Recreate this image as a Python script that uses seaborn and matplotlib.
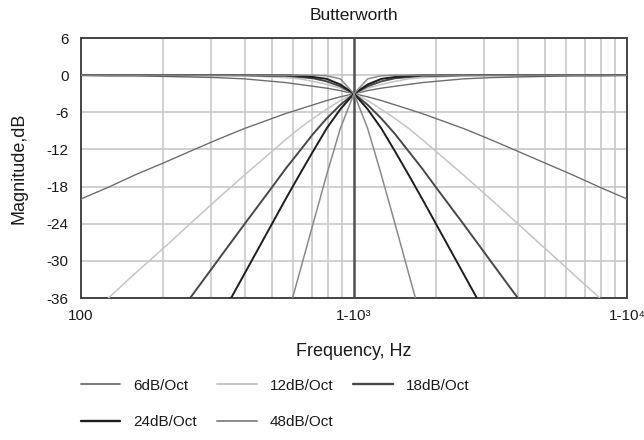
import seaborn as sns
import matplotlib.pyplot as plt
from matplotlib.lines import Line2D
import pandas as pd

# Frequências (Hz) - grade em escala log, simétrica em torno de 1 kHz
freq = [100, 126, 158, 200, 251, 316, 398, 501, 562, 631, 708, 794, 891, 1000,
        1122, 1259, 1413, 1585, 1778, 1995, 2512, 3162, 3981, 5012, 6310, 7943, 10000]

# Passa-baixa (dB)
lp_6 = [-0.0, -0.1, -0.1, -0.2, -0.3, -0.4, -0.6, -1.0, -1.2, -1.5, -1.8, -2.1, -2.5, -3.0,
        -3.5, -4.1, -4.8, -5.5, -6.2, -7.0, -8.6, -10.4, -12.3, -14.2, -16.1, -18.1, -20.0]
lp_12 = [0.0, 0.0, 0.0, 0.0, 0.0, 0.0, -0.1, -0.3, -0.4, -0.6, -1.0, -1.5, -2.1, -3.0,
         -4.1, -5.5, -7.0, -8.6, -10.4, -12.3, -16.1, -20.0, -24.0, -28.0, -32.0, -36.0, -40.0]
lp_18 = [0.0, 0.0, 0.0, 0.0, 0.0, 0.0, 0.0, -0.1, -0.1, -0.3, -0.5, -1.0, -1.8, -3.0,
         -4.8, -7.0, -9.5, -12.3, -15.1, -18.1, -24.0, -30.0, -36.0, -42.0, -48.0, -54.0, -60.0]
lp_24 = [0.0, 0.0, 0.0, 0.0, 0.0, 0.0, 0.0, 0.0, -0.0, -0.1, -0.3, -0.6, -1.5, -3.0,
         -5.5, -8.6, -12.3, -16.1, -20.0, -24.0, -32.0, -40.0, -48.0, -56.0, -64.0, -72.0, -80.0]
lp_48 = [0.0, 0.0, 0.0, 0.0, 0.0, 0.0, 0.0, 0.0, 0.0, 0.0, 0.0, -0.1, -0.6, -3.0,
         -8.6, -16.1, -24.0, -32.0, -40.0, -48.0, -64.0, -80.0, -96.0, -112.0, -128.0, -144.0, -160.0]

# Passa-alta (dB)
hp_6 = [-20.0, -18.1, -16.1, -14.2, -12.3, -10.4, -8.6, -7.0, -6.2, -5.5, -4.8, -4.1, -3.5, -3.0,
        -2.5, -2.1, -1.8, -1.5, -1.2, -1.0, -0.6, -0.4, -0.3, -0.2, -0.1, -0.1, -0.0]
hp_12 = [-40.0, -36.0, -32.0, -28.0, -24.0, -20.0, -16.1, -12.3, -10.4, -8.6, -7.0, -5.5, -4.1, -3.0,
         -2.1, -1.5, -1.0, -0.6, -0.4, -0.3, -0.1, 0.0, 0.0, 0.0, 0.0, 0.0, 0.0]
hp_18 = [-60.0, -54.0, -48.0, -42.0, -36.0, -30.0, -24.0, -18.1, -15.1, -12.3, -9.5, -7.0, -4.8, -3.0,
         -1.8, -1.0, -0.5, -0.3, -0.1, -0.1, 0.0, 0.0, 0.0, 0.0, 0.0, 0.0, 0.0]
hp_24 = [-80.0, -72.0, -64.0, -56.0, -48.0, -40.0, -32.0, -24.0, -20.0, -16.1, -12.3, -8.6, -5.5, -3.0,
         -1.5, -0.6, -0.3, -0.1, -0.0, 0.0, 0.0, 0.0, 0.0, 0.0, 0.0, 0.0, 0.0]
hp_48 = [-160.0, -144.0, -128.0, -112.0, -96.0, -80.0, -64.0, -48.0, -40.0, -32.0, -24.0, -16.1, -8.6, -3.0,
         -0.6, -0.1, 0.0, 0.0, 0.0, 0.0, 0.0, 0.0, 0.0, 0.0, 0.0, 0.0, 0.0]

labels = ['6dB/Oct', '12dB/Oct', '18dB/Oct', '24dB/Oct', '48dB/Oct']
colors = ['#6e6e6e', '#c4c4c4', '#474747', '#1e1e1e', '#8a8a8a']
widths = [1.0, 1.1, 1.4, 1.4, 1.1]
lows = [lp_6, lp_12, lp_18, lp_24, lp_48]
highs = [hp_6, hp_12, hp_18, hp_24, hp_48]

y_ticks = [6, 0, -6, -12, -18, -24, -30, -36]
x_ticks = [100, 1000, 10000]
x_ticklabels = ['100', '1-10³', '1-10⁴']

sns.set_style("white")
plt.rcParams['font.family'] = ['Liberation Sans', 'DejaVu Sans']

fig = plt.figure(figsize=(6.44, 4.40), dpi=100)
ax = fig.add_axes([0.1258, 0.3227, 0.8478, 0.5909])

ax.set_xscale('log')
ax.set_xlim(100, 10000)
ax.set_ylim(-36, 6)

# Grade
minor = [200, 300, 400, 500, 600, 700, 800, 900,
         2000, 3000, 4000, 5000, 6000, 7000, 8000, 9000]
for f in minor:
    ax.axvline(f, color='#c8c8c8', lw=1.2, zorder=1)
for v in y_ticks:
    ax.axhline(v, color='#c8c8c8', lw=1.2, zorder=1)
ax.axvline(1000, color='#505050', lw=1.8, zorder=1)

for lab, c, w, lo, hi in zip(labels, colors, widths, lows, highs):
    df_lo = pd.DataFrame({'f': freq, 'db': lo})
    df_hi = pd.DataFrame({'f': freq, 'db': hi})
    sns.lineplot(data=df_lo, x='f', y='db', color=c, lw=w, ax=ax, zorder=3)
    sns.lineplot(data=df_hi, x='f', y='db', color=c, lw=w, ax=ax, zorder=3)

ax.set_yticks(y_ticks)
ax.set_yticklabels([str(v) for v in y_ticks])
ax.set_xticks(x_ticks)
ax.set_xticklabels(x_ticklabels)
ax.minorticks_off()
ax.tick_params(axis='both', length=0, labelsize=11, colors='#1a1a1a')
ax.tick_params(axis='x', pad=8)
ax.tick_params(axis='y', pad=9)
# último rótulo encostado à borda direita
ax.get_xticklabels()[-1].set_horizontalalignment('center')
ax.get_xticklabels()[-1].set_x(10000)

for s in ax.spines.values():
    s.set_color('#444444')
    s.set_linewidth(1.4)

ax.set_title('Butterworth', fontsize=12.5, pad=13, color='#1a1a1a')
ax.set_xlabel('Frequency, Hz', fontsize=13, labelpad=14, color='#1a1a1a')
ax.set_ylabel('Magnitude,dB', fontsize=13, labelpad=14, color='#1a1a1a')

# Legenda (ordem por linha)
handles = [Line2D([], [], color=c, lw=w + 0.3) for c, w in zip(colors, widths)]
order = [0, 3, 1, 4, 2]
leg = fig.legend([handles[i] for i in order], [labels[i] for i in order],
                 loc='lower left', bbox_to_anchor=(0.104, -0.006), ncol=3, frameon=False,
                 fontsize=11, handlelength=2.6, columnspacing=1.3, labelspacing=1.45,
                 handletextpad=0.85)
for t in leg.get_texts():
    t.set_color('#1a1a1a')

fig.savefig('out.png', dpi=100)
